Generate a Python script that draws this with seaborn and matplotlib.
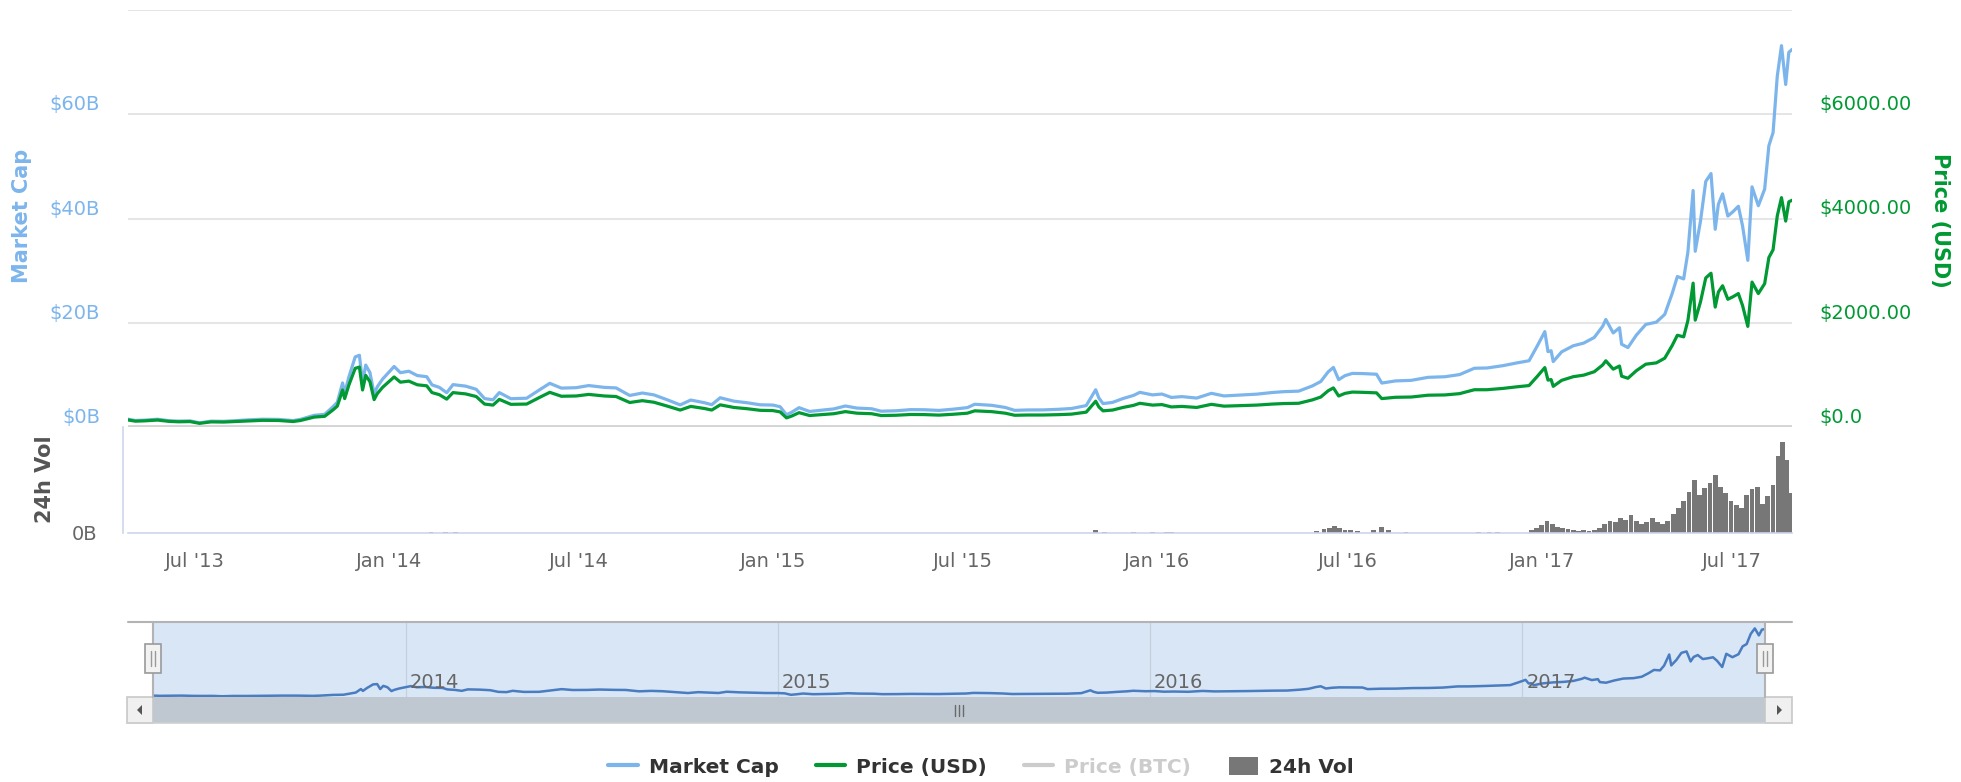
# bitcoin market cap / price chart, coinmarketcap style
import pandas as pd
import matplotlib
matplotlib.use('Agg')
from matplotlib import pyplot as plt
import matplotlib.dates as mdates
from matplotlib.lines import Line2D
from matplotlib.patches import Patch, Rectangle, Polygon
from matplotlib.transforms import blended_transform_factory
import seaborn as sns

# --- data ---
dates = [
    '2013-04-28', '2013-05-05', '2013-05-14', '2013-05-26', '2013-06-06', '2013-06-15', '2013-06-26',
    '2013-07-05', '2013-07-16', '2013-07-28', '2013-08-08', '2013-08-20', '2013-09-03', '2013-09-18',
    '2013-10-02', '2013-10-09', '2013-10-22', '2013-11-01', '2013-11-09', '2013-11-13', '2013-11-18',
    '2013-11-20', '2013-11-24', '2013-11-30', '2013-12-04', '2013-12-07', '2013-12-10', '2013-12-14',
    '2013-12-18', '2013-12-21', '2013-12-26', '2014-01-06', '2014-01-12', '2014-01-20', '2014-01-28',
    '2014-02-06', '2014-02-11', '2014-02-18', '2014-02-25', '2014-03-03', '2014-03-15', '2014-03-25',
    '2014-04-02', '2014-04-10', '2014-04-16', '2014-04-27', '2014-05-12', '2014-05-25', '2014-06-03',
    '2014-06-14', '2014-06-28', '2014-07-10', '2014-07-25', '2014-08-05', '2014-08-18', '2014-08-30',
    '2014-09-10', '2014-09-22', '2014-10-05', '2014-10-15', '2014-10-28', '2014-11-04', '2014-11-12',
    '2014-11-25', '2014-12-08', '2014-12-20', '2015-01-01', '2015-01-08', '2015-01-14', '2015-01-19',
    '2015-01-26', '2015-02-05', '2015-02-15', '2015-02-28', '2015-03-11', '2015-03-22', '2015-04-05',
    '2015-04-14', '2015-04-28', '2015-05-12', '2015-05-25', '2015-06-08', '2015-06-22', '2015-07-05',
    '2015-07-12', '2015-07-28', '2015-08-10', '2015-08-19', '2015-08-31', '2015-09-15', '2015-09-30',
    '2015-10-12', '2015-10-26', '2015-11-04', '2015-11-07', '2015-11-11', '2015-11-20', '2015-11-30',
    '2015-12-10', '2015-12-16', '2015-12-28', '2016-01-06', '2016-01-15', '2016-01-25', '2016-02-08',
    '2016-02-22', '2016-03-05', '2016-03-20', '2016-04-05', '2016-04-20', '2016-05-01', '2016-05-15',
    '2016-05-28', '2016-06-05', '2016-06-12', '2016-06-17', '2016-06-22', '2016-06-28', '2016-07-05',
    '2016-07-15', '2016-07-28', '2016-08-02', '2016-08-15', '2016-08-30', '2016-09-15', '2016-10-01',
    '2016-10-15', '2016-10-29', '2016-11-10', '2016-11-25', '2016-12-08', '2016-12-20', '2016-12-28',
    '2017-01-04', '2017-01-07', '2017-01-10', '2017-01-12', '2017-01-20', '2017-01-31', '2017-02-10',
    '2017-02-20', '2017-02-28', '2017-03-03', '2017-03-10', '2017-03-16', '2017-03-18', '2017-03-24',
    '2017-04-01', '2017-04-10', '2017-04-20', '2017-04-28', '2017-05-05', '2017-05-10', '2017-05-16',
    '2017-05-20', '2017-05-25', '2017-05-27', '2017-06-01', '2017-06-06', '2017-06-11', '2017-06-15',
    '2017-06-18', '2017-06-22', '2017-06-27', '2017-07-02', '2017-07-07', '2017-07-11', '2017-07-16',
    '2017-07-20', '2017-07-26', '2017-08-01', '2017-08-05', '2017-08-09', '2017-08-13', '2017-08-17',
    '2017-08-21', '2017-08-24', '2017-08-27',
]
price_usd = [
    135, 112, 118, 133, 108, 100, 104,
    70, 98, 95, 105, 118, 128, 125,
    105, 125, 190, 205, 330, 400, 710,
    545, 805, 1125, 1150, 710, 990, 870,
    525, 640, 760, 960, 860, 880, 810,
    790, 660, 620, 535, 660, 635, 585,
    440, 420, 530, 435, 440, 575, 665,
    590, 595, 625, 595, 585, 470, 505,
    475, 405, 325, 395, 355, 325, 425,
    375, 350, 320, 315, 290, 175, 210,
    275, 220, 235, 255, 295, 265, 255,
    220, 225, 240, 238, 228, 245, 265,
    310, 295, 265, 225, 230, 230, 237,
    247, 285, 495, 385, 310, 325, 375,
    415, 455, 420, 430, 385, 395, 375,
    435, 400, 410, 420, 440, 450, 455,
    520, 575, 695, 750, 595, 645, 670,
    665, 655, 545, 570, 575, 610, 615,
    640, 715, 715, 740, 770, 795, 975,
    1140, 900, 910, 780, 895, 965, 995,
    1060, 1190, 1270, 1110, 1170, 975, 935,
    1080, 1205, 1230, 1320, 1560, 1760, 1730,
    2040, 2760, 2050, 2400, 2860, 2950, 2300,
    2590, 2710, 2450, 2500, 2560, 2330, 1930,
    2780, 2560, 2750, 3250, 3400, 4050, 4400,
    3950, 4320, 4350,
]
market_cap_b = [
    1.50, 1.25, 1.32, 1.49, 1.21, 1.13, 1.18,
    0.80, 1.12, 1.09, 1.21, 1.37, 1.49, 1.46,
    1.23, 1.47, 2.24, 2.43, 3.91, 4.75, 8.45,
    6.49, 9.60, 13.44, 13.76, 8.50, 11.88, 10.45,
    6.32, 7.71, 9.18, 11.61, 10.42, 10.70, 9.87,
    9.65, 8.08, 7.60, 6.58, 8.13, 7.84, 7.24,
    5.46, 5.22, 6.60, 5.43, 5.52, 7.23, 8.38,
    7.46, 7.54, 7.95, 7.60, 7.50, 6.05, 6.52,
    6.16, 5.27, 4.24, 5.17, 4.66, 4.28, 5.61,
    4.96, 4.64, 4.26, 4.21, 3.89, 2.35, 2.83,
    3.71, 2.98, 3.19, 3.47, 4.03, 3.63, 3.50,
    3.03, 3.11, 3.33, 3.31, 3.18, 3.43, 3.72,
    4.36, 4.16, 3.75, 3.19, 3.27, 3.28, 3.40,
    3.55, 4.11, 7.15, 5.57, 4.49, 4.72, 5.46,
    6.06, 6.65, 6.16, 6.32, 5.67, 5.83, 5.55,
    6.46, 5.96, 6.13, 6.30, 6.62, 6.78, 6.88,
    7.88, 8.73, 10.57, 11.43, 9.08, 9.85, 10.28,
    10.25, 10.12, 8.43, 8.84, 8.95, 9.53, 9.64,
    10.06, 11.27, 11.32, 11.76, 12.28, 12.71, 15.62,
    18.30, 14.46, 14.63, 12.55, 14.42, 15.58, 16.10,
    17.18, 19.32, 20.63, 18.05, 19.04, 15.88, 15.24,
    17.62, 19.68, 20.11, 21.60, 25.57, 28.87, 28.41,
    33.52, 45.37, 33.71, 39.50, 47.11, 48.62, 37.93,
    42.73, 44.73, 40.47, 41.33, 42.35, 38.57, 31.97,
    46.07, 42.45, 45.63, 53.96, 56.48, 67.31, 73.16,
    65.71, 71.89, 72.42,
]

vol_dates = [
    '2014-02-10', '2014-02-24', '2014-03-05',
    '2015-11-04', '2015-11-12', '2015-12-10', '2015-12-28', '2016-01-10', '2016-01-15',
    '2016-06-01', '2016-06-08', '2016-06-13', '2016-06-18', '2016-06-23', '2016-06-28',
    '2016-07-03', '2016-07-10', '2016-07-25', '2016-08-02', '2016-08-08', '2016-08-25',
    '2016-11-02', '2016-11-12', '2016-11-20',
    '2016-12-22', '2016-12-27', '2017-01-01', '2017-01-06', '2017-01-11', '2017-01-16',
    '2017-01-21', '2017-01-26', '2017-01-31', '2017-02-05', '2017-02-10', '2017-02-15',
    '2017-02-20', '2017-02-25', '2017-03-02', '2017-03-07', '2017-03-12', '2017-03-17',
    '2017-03-22', '2017-03-27', '2017-04-01', '2017-04-06', '2017-04-11', '2017-04-16',
    '2017-04-21', '2017-04-26', '2017-05-01', '2017-05-06', '2017-05-11', '2017-05-16',
    '2017-05-21', '2017-05-26', '2017-05-31', '2017-06-05', '2017-06-10', '2017-06-15',
    '2017-06-20', '2017-06-25', '2017-06-30', '2017-07-05', '2017-07-10', '2017-07-15',
    '2017-07-20', '2017-07-25', '2017-07-30', '2017-08-04', '2017-08-09', '2017-08-14',
    '2017-08-18', '2017-08-22', '2017-08-26',
]
vol_b = [
    0.03, 0.04, 0.03,
    0.10, 0.03, 0.03, 0.03, 0.04, 0.03,
    0.08, 0.15, 0.20, 0.25, 0.18, 0.12,
    0.10, 0.08, 0.10, 0.22, 0.12, 0.05,
    0.04, 0.03, 0.03,
    0.10, 0.18, 0.30, 0.45, 0.35, 0.22,
    0.18, 0.15, 0.12, 0.08, 0.10, 0.06,
    0.10, 0.20, 0.35, 0.45, 0.40, 0.55,
    0.50, 0.68, 0.45, 0.35, 0.40, 0.55,
    0.40, 0.35, 0.45, 0.70, 0.95, 1.20,
    1.55, 2.00, 1.45, 1.70, 1.90, 2.20,
    1.75, 1.50, 1.20, 1.05, 0.95, 1.45,
    1.65, 1.75, 1.10, 1.40, 1.80, 2.90,
    3.45, 2.75, 1.50,
]

x_tick_dates = ['2013-07-01', '2014-01-01', '2014-07-01', '2015-01-01', '2015-07-01',
                '2016-01-01', '2016-07-01', '2017-01-01', '2017-07-01']
x_tick_labels = ["Jul '13", "Jan '14", "Jul '14", "Jan '15", "Jul '15",
                 "Jan '16", "Jul '16", "Jan '17", "Jul '17"]
mcap_ticks = [0, 20, 40, 60, 80]
mcap_labels = ['$0B', '$20B', '$40B', '$60B', '']
price_ticks = [0, 2000, 4000, 6000]
price_labels = ['$0.0', '$2000.00', '$4000.00', '$6000.00']
nav_years = ['2014-01-01', '2015-01-01', '2016-01-01', '2017-01-01']
nav_labels = ['2014', '2015', '2016', '2017']
legend_labels = ['Market Cap', 'Price (USD)', 'Price (BTC)', '24h Vol']

# --- style ---
sns.set_theme(style='white')
plt.rcParams['font.family'] = ['DejaVu Sans']

BLUE = '#7cb5ec'
GREEN = '#009933'
NAV_BLUE = '#4a7cc0'
AXIS_BLUE = '#ccd6eb'
TXT = '#666666'

W, H = 1961, 782


def box(x0, y0, x1, y1):
    """pixel box (top-left origin) -> figure fraction rect"""
    return [x0 / W, 1 - y1 / H, (x1 - x0) / W, (y1 - y0) / H]


def fx(x):
    return x / W


def fy(y):
    return 1 - y / H


df = pd.DataFrame({'date': pd.to_datetime(dates), 'mcap': market_cap_b, 'price': price_usd})
vol = pd.DataFrame({'date': pd.to_datetime(vol_dates), 'vol': vol_b})
x_start, x_end = df['date'].min(), df['date'].max()

fig = plt.figure(figsize=(W / 100, H / 100), dpi=100)
fig.patch.set_facecolor('white')

# 1. main panel: market cap + price
ax = fig.add_axes(box(128, 10, 1792, 427))
sns.lineplot(data=df, x='date', y='mcap', ax=ax, color=BLUE, lw=2.3)
ax.set_xlim(x_start, x_end)
ax.set_ylim(0, 80)
ax.set_yticks(mcap_ticks)
ax.set_yticklabels(mcap_labels, va='bottom')
ax.tick_params(axis='y', length=0, pad=20, labelcolor=BLUE, labelsize=14)
ax.tick_params(axis='x', bottom=False, labelbottom=False)
ax.grid(axis='y', color='#e3e3e3', lw=1.3)
ax.set_axisbelow(True)
ax.axhline(0, color='#d4d4d4', lw=3.5, zorder=1.5)
ax.set_xlabel('')
ax.set_ylabel('')
for s in ax.spines.values():
    s.set_visible(False)

ax2 = ax.twinx()
sns.lineplot(data=df, x='date', y='price', ax=ax2, color=GREEN, lw=2.3)
ax2.set_xlim(x_start, x_end)
ax2.set_ylim(0, 8000)
ax2.set_yticks(price_ticks)
ax2.set_yticklabels(price_labels, va='bottom')
ax2.tick_params(axis='y', length=0, pad=20, labelcolor=GREEN, labelsize=14)
ax2.grid(False)
ax2.set_ylabel('')
for s in ax2.spines.values():
    s.set_visible(False)

fig.text(fx(22), fy(216), 'Market Cap', rotation=90, ha='center', va='center',
         fontsize=15, fontweight='bold', color=BLUE)
fig.text(fx(1940), fy(220), 'Price (USD)', rotation=270, ha='center', va='center',
         fontsize=15, fontweight='bold', color=GREEN)

# 2. volume panel
axv = fig.add_axes(box(128, 427, 1792, 533))
axv.bar(vol['date'], vol['vol'], width=4.6, color='#777777', lw=0)
axv.set_xlim(x_start, x_end)
axv.set_ylim(0, 4)
axv.set_yticks([0])
axv.set_yticklabels(['0B'], va='bottom')
axv.tick_params(axis='y', length=0, pad=18.5, labelcolor=TXT, labelsize=14)
axv.set_xticks(pd.to_datetime(x_tick_dates))
axv.set_xticklabels(x_tick_labels)
axv.tick_params(axis='x', length=12, width=1, color=AXIS_BLUE, pad=2,
                labelsize=14, labelcolor=TXT)
for side in ['top', 'right']:
    axv.spines[side].set_visible(False)
axv.spines['bottom'].set_color(AXIS_BLUE)
axv.spines['bottom'].set_linewidth(1.2)
axv.spines['left'].set_color(AXIS_BLUE)
axv.spines['left'].set_linewidth(1.2)
axv.spines['left'].set_position(('outward', 3.6))
fig.text(fx(45), fy(479), '24h Vol', rotation=90, ha='center', va='center',
         fontsize=15, fontweight='bold', color='#555555')

# 3. navigator
axn = fig.add_axes(box(153, 622, 1765, 697))
axn.set_facecolor('#d8e6f6')
for d in pd.to_datetime(nav_years):
    axn.axvline(d, color='#c6d0dc', lw=0.9, zorder=0.5)
sns.lineplot(data=df, x='date', y='mcap', ax=axn, color=NAV_BLUE, lw=1.8)
axn.set_xlim(x_start, x_end)
axn.set_ylim(0, 80)
axn.set_xticks([])
axn.set_yticks([])
axn.set_xlabel('')
axn.set_ylabel('')
for s in axn.spines.values():
    s.set_visible(False)
tr = blended_transform_factory(axn.transData, axn.transAxes)
for d, lab in zip(mdates.date2num(pd.to_datetime(nav_years)), nav_labels):
    axn.annotate(lab, xy=(d, 0.2), xycoords=tr, xytext=(4, 0), textcoords='offset pixels',
                 ha='left', va='center', fontsize=14, color=TXT)

# navigator frame, handles, scrollbar
grey = '#b3b3b3'
fig.add_artist(Line2D([fx(128), fx(1792)], [fy(622), fy(622)], color=grey, lw=1.5,
                      transform=fig.transFigure))
for xe in (153, 1765):
    fig.add_artist(Line2D([fx(xe), fx(xe)], [fy(622), fy(697)], color=grey, lw=1.5,
                          transform=fig.transFigure))
fig.add_artist(Rectangle((fx(153), fy(723)), fx(1765) - fx(153), fy(697) - fy(723),
                         facecolor='#bfc7d0', edgecolor='none', transform=fig.transFigure))
fig.add_artist(Line2D([fx(127), fx(1792)], [fy(723), fy(723)], color='#cfcfcf', lw=1.2,
                      transform=fig.transFigure))
for x0, x1 in ((127, 153), (1765, 1792)):
    fig.add_artist(Rectangle((fx(x0), fy(723)), fx(x1) - fx(x0), fy(697) - fy(723),
                             facecolor='#f0f0f0', edgecolor='#c8c8c8', lw=1.2,
                             transform=fig.transFigure))
fig.add_artist(Polygon([(fx(137), fy(710)), (fx(142), fy(705)), (fx(142), fy(715))],
                       closed=True, facecolor='#555555', edgecolor='none', transform=fig.transFigure))
fig.add_artist(Polygon([(fx(1782), fy(710)), (fx(1777), fy(705)), (fx(1777), fy(715))],
                       closed=True, facecolor='#555555', edgecolor='none', transform=fig.transFigure))
for xg in (955, 959, 963):
    fig.add_artist(Line2D([fx(xg), fx(xg)], [fy(705), fy(716)], color='#6a6a6a', lw=1,
                          transform=fig.transFigure))
for xc in (153, 1765):
    fig.add_artist(Rectangle((fx(xc - 8), fy(673)), fx(16), fy(644) - fy(673),
                             facecolor='#f2f2f2', edgecolor='#9a9a9a', lw=1.2,
                             transform=fig.transFigure, zorder=5))
    for dx in (-2, 2):
        fig.add_artist(Line2D([fx(xc + dx), fx(xc + dx)], [fy(651), fy(666)], color='#9a9a9a',
                              lw=1, transform=fig.transFigure, zorder=6))

# 4. legend
handles = [
    Line2D([], [], color=BLUE, lw=3),
    Line2D([], [], color=GREEN, lw=3),
    Line2D([], [], color='#cccccc', lw=3),
    Patch(facecolor='#777777', edgecolor='none'),
]
leg = fig.legend(handles, legend_labels, loc='center', bbox_to_anchor=(fx(981), fy(767)),
                 ncol=4, frameon=False, prop={'weight': 'bold', 'size': 14.5},
                 handlelength=1.45, handleheight=1.0, handletextpad=0.55, columnspacing=1.85)
for i, t in enumerate(leg.get_texts()):
    t.set_color('#cccccc' if i == 2 else '#333333')

plt.savefig('out.png', dpi=100)
plt.close()
